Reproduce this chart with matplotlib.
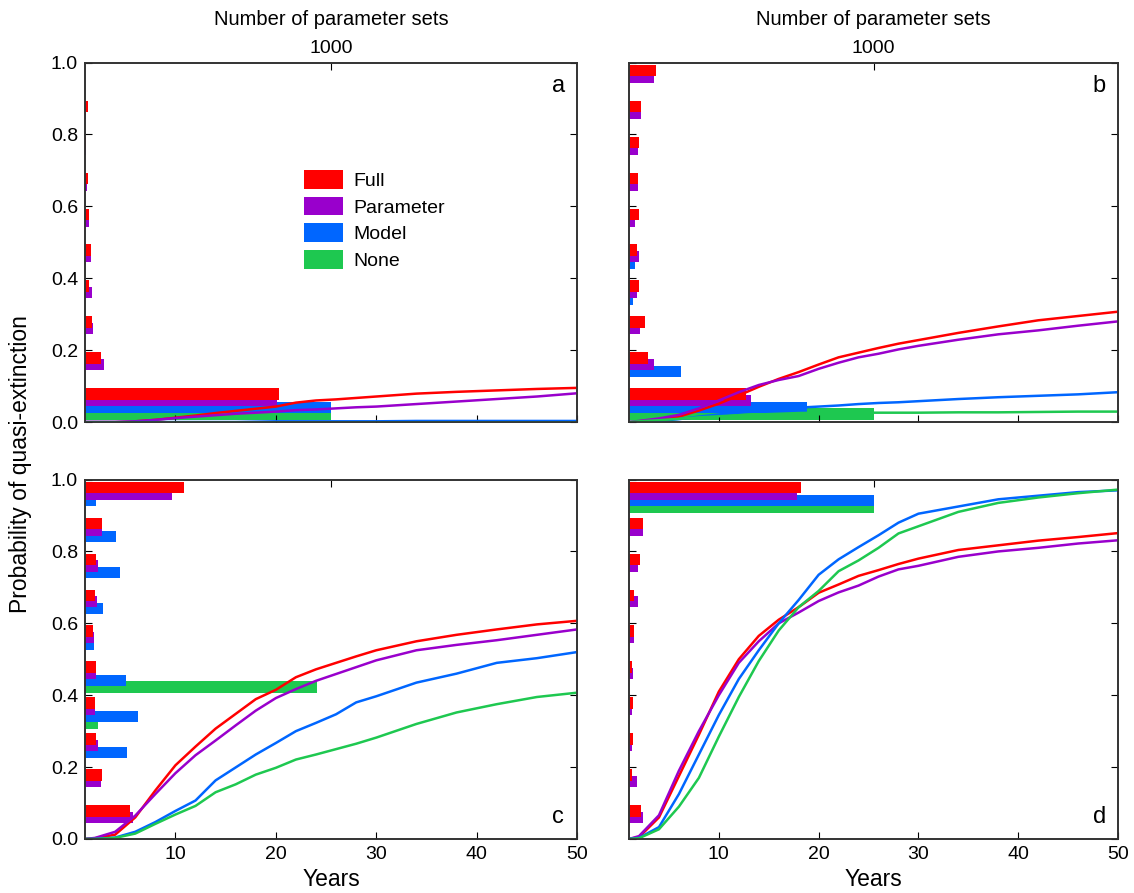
import matplotlib
matplotlib.use("Agg")
import matplotlib.pyplot as plt
from matplotlib.patches import Patch
import numpy as np

plt.rcParams['font.family'] = ['Liberation Sans', 'DejaVu Sans']

### データ
# 年（下の軸）
years = [1, 2, 4, 6, 8, 10, 12, 14, 16, 18, 20, 22, 24, 26, 28, 30, 34, 38, 42, 46, 50]

# 絶滅確率の推移（パネル a〜d、Full / Parameter / Model / None）
a_full = [0, 0, 0, 0.002, 0.006, 0.012, 0.018, 0.025, 0.031, 0.037, 0.043, 0.054, 0.060, 0.063, 0.067, 0.071, 0.079, 0.084, 0.088, 0.092, 0.095]
a_param = [0, 0, 0, 0.002, 0.006, 0.011, 0.015, 0.019, 0.023, 0.026, 0.029, 0.033, 0.035, 0.038, 0.041, 0.043, 0.050, 0.057, 0.064, 0.071, 0.080]
a_model = [0, 0, 0, 0, 0, 0, 0, 0, 0, 0.001, 0.002, 0.002, 0.002, 0.002, 0.002, 0.002, 0.003, 0.003, 0.003, 0.003, 0.003]
a_none = [0, 0, 0, 0, 0, 0, 0, 0, 0, 0, 0, 0, 0, 0, 0, 0, 0, 0, 0, 0, 0]

b_full = [0, 0.002, 0.006, 0.015, 0.032, 0.051, 0.074, 0.098, 0.120, 0.139, 0.160, 0.180, 0.193, 0.206, 0.218, 0.228, 0.248, 0.266, 0.283, 0.295, 0.307]
b_param = [0, 0.003, 0.010, 0.020, 0.038, 0.060, 0.083, 0.103, 0.117, 0.128, 0.148, 0.165, 0.180, 0.190, 0.202, 0.212, 0.229, 0.244, 0.255, 0.268, 0.280]
b_model = [0, 0, 0.003, 0.008, 0.015, 0.021, 0.026, 0.030, 0.035, 0.040, 0.043, 0.046, 0.050, 0.053, 0.055, 0.058, 0.064, 0.069, 0.073, 0.077, 0.083]
b_none = [0, 0.002, 0.005, 0.009, 0.013, 0.016, 0.019, 0.021, 0.023, 0.025, 0.026, 0.026, 0.026, 0.026, 0.026, 0.026, 0.027, 0.027, 0.028, 0.029, 0.029]

c_full = [0, 0.002, 0.012, 0.060, 0.135, 0.205, 0.257, 0.307, 0.348, 0.389, 0.415, 0.450, 0.472, 0.490, 0.508, 0.525, 0.550, 0.568, 0.583, 0.597, 0.607]
c_param = [0, 0.003, 0.020, 0.065, 0.125, 0.183, 0.233, 0.274, 0.316, 0.357, 0.392, 0.417, 0.440, 0.459, 0.478, 0.497, 0.525, 0.540, 0.553, 0.568, 0.583]
c_model = [0, 0, 0.004, 0.020, 0.047, 0.078, 0.107, 0.163, 0.199, 0.235, 0.267, 0.300, 0.323, 0.347, 0.380, 0.397, 0.435, 0.460, 0.490, 0.503, 0.520]
c_none = [0, 0, 0.003, 0.015, 0.042, 0.068, 0.092, 0.130, 0.152, 0.179, 0.198, 0.221, 0.235, 0.250, 0.265, 0.282, 0.320, 0.352, 0.375, 0.395, 0.407]

d_full = [0, 0.005, 0.060, 0.175, 0.290, 0.410, 0.500, 0.565, 0.610, 0.645, 0.685, 0.708, 0.732, 0.748, 0.765, 0.780, 0.804, 0.817, 0.830, 0.840, 0.851]
d_param = [0, 0.008, 0.066, 0.190, 0.300, 0.400, 0.490, 0.550, 0.600, 0.630, 0.662, 0.686, 0.705, 0.730, 0.750, 0.760, 0.785, 0.800, 0.810, 0.822, 0.831]
d_model = [0, 0.003, 0.033, 0.125, 0.235, 0.345, 0.445, 0.525, 0.600, 0.665, 0.735, 0.778, 0.812, 0.845, 0.880, 0.905, 0.925, 0.945, 0.955, 0.965, 0.970]
d_none = [0, 0.002, 0.027, 0.090, 0.170, 0.285, 0.395, 0.495, 0.580, 0.645, 0.690, 0.745, 0.775, 0.810, 0.850, 0.870, 0.910, 0.935, 0.950, 0.962, 0.972]

# ヒストグラム（パラメータセット数、確率ビン 0.0-0.1, ..., 0.9-1.0）
bins = [0.0, 0.1, 0.2, 0.3, 0.4, 0.5, 0.6, 0.7, 0.8, 0.9]
a_hist_full = [788, 64, 27, 18, 23, 18, 14, 3, 14, 0]
a_hist_param = [780, 75, 31, 27, 23, 18, 7, 3, 2, 0]
a_hist_model = [1000, 0, 0, 0, 0, 0, 0, 0, 0, 0]
a_hist_none = [1000, 0, 0, 0, 0, 0, 0, 0, 0, 0]

b_hist_full = [477, 79, 64, 41, 31, 41, 36, 41, 49, 110]
b_hist_param = [498, 102, 45, 31, 41, 26, 36, 36, 49, 102]
b_hist_model = [729, 213, 0, 18, 26, 0, 0, 0, 0, 0]
b_hist_none = [1000, 0, 0, 0, 0, 0, 0, 0, 0, 0]

c_hist_full = [181, 68, 45, 41, 45, 31, 41, 45, 68, 401]
c_hist_param = [195, 64, 54, 41, 45, 37, 50, 54, 68, 354]
c_hist_model = [0, 0, 170, 214, 166, 37, 72, 143, 125, 45]
c_hist_none = [0, 0, 0, 54, 943, 0, 0, 0, 0, 0]

d_hist_full = [49, 13, 18, 18, 13, 22, 22, 45, 56, 705]
d_hist_param = [56, 31, 13, 13, 18, 22, 35, 35, 56, 687]
d_hist_model = [0, 0, 0, 0, 0, 0, 0, 0, 0, 1000]
d_hist_none = [0, 0, 0, 0, 0, 0, 0, 0, 0, 1000]

labels = ["Full", "Parameter", "Model", "None"]
colors = ["#ff0000", "#9900cc", "#0066ff", "#1ec850"]

### 共通
def drawPanel(ax, lines, hists, letter, show_x, show_y, show_top, letter_top):
    """
    1パネル分：折れ線（年）と横向きヒストグラム（上の軸）を描く
    """
    axh = ax.twiny()
    # 折れ線をヒストグラムの上に描く
    ax.set_zorder(axh.get_zorder() + 1)
    ax.patch.set_visible(False)

    # ヒストグラム（下から None, Model, Parameter, Full の順）
    offsets = [0.062, 0.044, 0.025, 0.007]
    h = 0.032
    for i in [3, 2, 1, 0]:
        axh.barh(np.array(bins) + offsets[i], hists[i], height=h, align="edge",
                 color=colors[i], edgecolor="none")
    axh.set_xlim(0, 2000)
    axh.set_xticks([1000])
    axh.tick_params(axis="x", direction="in", length=5, labelsize=14, pad=4)
    if show_top:
        axh.set_xlabel("Number of parameter sets", fontsize=14.5, labelpad=11)
    else:
        axh.set_xticklabels([])

    # 折れ線
    for vals, c in zip(lines, colors):
        ax.plot(years, vals, color=c, lw=1.8, solid_capstyle="butt")
    ax.set_xlim(1, 50)
    ax.set_ylim(0, 1)
    ax.set_xticks([10, 20, 30, 40, 50])
    ax.set_yticks([0, 0.2, 0.4, 0.6, 0.8, 1.0])
    ax.tick_params(axis="both", direction="in", length=5, labelsize=14, pad=5)
    ax.tick_params(axis="y", right=True)
    if show_x:
        ax.set_xlabel("Years", fontsize=16.5, labelpad=4)
    else:
        ax.set_xticklabels([])
    if show_y:
        ax.set_yticklabels(["0.0", "0.2", "0.4", "0.6", "0.8", "1.0"])
    else:
        ax.set_yticklabels([])

    for a in (ax, axh):
        for s in a.spines.values():
            s.set_color("#333333")
            s.set_linewidth(1.2)

    ty = 0.935 if letter_top else 0.06
    ax.text(0.962, ty, letter, transform=ax.transAxes, fontsize=17,
            ha="center", va="center")
    return ax


fig = plt.figure(figsize=(11.34, 8.93), dpi=100)

# 軸の位置（図に対する割合）
left_x, right_x = 0.075, 0.5547
w = 0.4339
top_y, bot_y = 0.5274, 0.0605
hgt = 0.4025

ax_a = fig.add_axes([left_x, top_y, w, hgt])
ax_b = fig.add_axes([right_x, top_y, 0.4312, hgt])
ax_c = fig.add_axes([left_x, bot_y, w, hgt])
ax_d = fig.add_axes([right_x, bot_y, 0.4312, hgt])

drawPanel(ax_a, [a_full, a_param, a_model, a_none],
          [a_hist_full, a_hist_param, a_hist_model, a_hist_none],
          "a", False, True, True, True)
drawPanel(ax_b, [b_full, b_param, b_model, b_none],
          [b_hist_full, b_hist_param, b_hist_model, b_hist_none],
          "b", False, False, True, True)
drawPanel(ax_c, [c_full, c_param, c_model, c_none],
          [c_hist_full, c_hist_param, c_hist_model, c_hist_none],
          "c", True, True, False, False)
drawPanel(ax_d, [d_full, d_param, d_model, d_none],
          [d_hist_full, d_hist_param, d_hist_model, d_hist_none],
          "d", True, False, False, False)

# 凡例（パネル a）
handles = [Patch(facecolor=c, edgecolor="none", label=l) for c, l in zip(colors, labels)]
ax_a.legend(handles=handles, loc="upper left", bbox_to_anchor=(0.41, 0.75),
            frameon=False, fontsize=14, handlelength=2.0, handleheight=1.1,
            labelspacing=0.35, handletextpad=0.5)

fig.text(0.018, 0.48, "Probability of quasi-extinction", rotation=90,
         fontsize=16.5, ha="center", va="center")

plt.savefig("out.png", dpi=100)
